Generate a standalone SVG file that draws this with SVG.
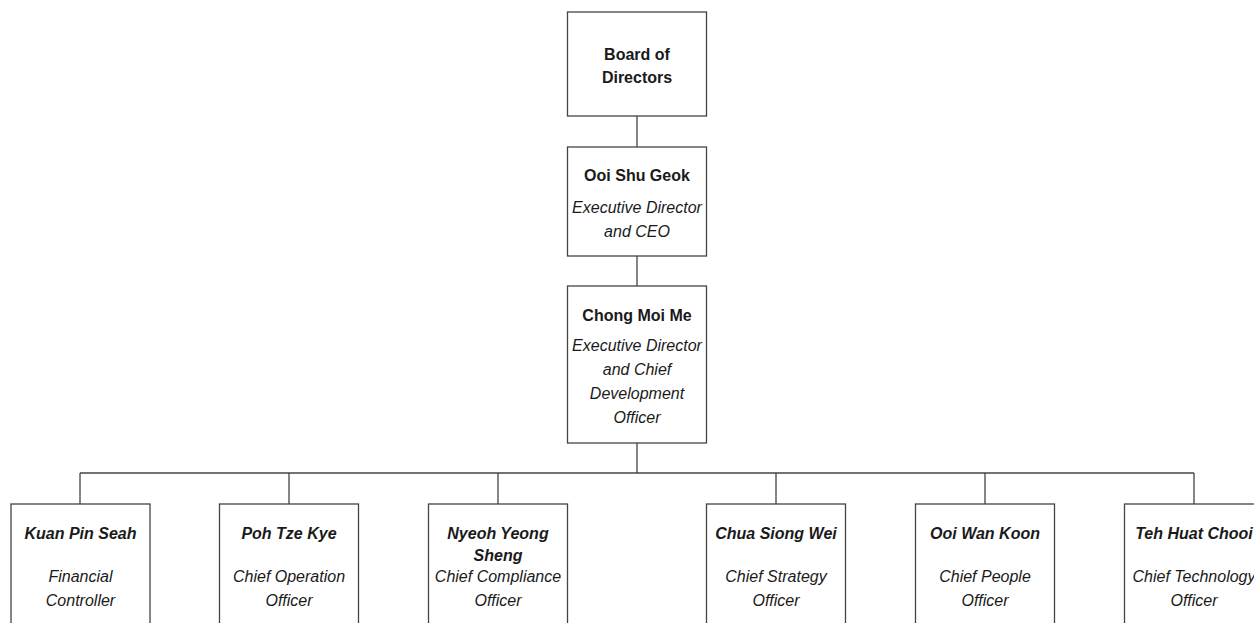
<svg xmlns="http://www.w3.org/2000/svg" width="1254" height="623" viewBox="0 0 1254 623">
<style>
.box{fill:#fff;stroke:#444;stroke-width:1.3}
.ln{fill:none;stroke:#444;stroke-width:1.3}
text{font-family:"Liberation Sans",Arial,sans-serif;font-size:16px;fill:#1a1a1a;text-anchor:middle}
.b{font-weight:bold}
.i{font-style:italic}
.bi{font-weight:bold;font-style:italic}
</style>
<rect width="1254" height="623" fill="#fff"/>
<g id="connectors">
<path class="ln" d="M637 116V147M637 256V286M637 443V473M80 473H1194M80 473V504M289 473V504M498 473V504M776 473V504M985 473V504M1194 473V504"/>
</g>
<g id="board">
<rect class="box" x="567.5" y="12" width="139" height="104"/>
<text class="b" x="637" y="60">Board of</text>
<text class="b" x="637" y="83">Directors</text>
</g>
<g id="ceo">
<rect class="box" x="567.5" y="147" width="139" height="109"/>
<text class="b" x="637" y="181">Ooi Shu Geok</text>
<text class="i" x="637" y="213">Executive Director</text>
<text class="i" x="637" y="237">and CEO</text>
</g>
<g id="cdo">
<rect class="box" x="567.5" y="286" width="139" height="157"/>
<text class="b" x="637" y="321">Chong Moi Me</text>
<text class="i" x="637" y="351">Executive Director</text>
<text class="i" x="637" y="375">and Chief</text>
<text class="i" x="637" y="399">Development</text>
<text class="i" x="637" y="423">Officer</text>
</g>
<g id="fc">
<rect class="box" x="11" y="504" width="139" height="140"/>
<text class="bi" x="80.5" y="539">Kuan Pin Seah</text>
<text class="i" x="80.5" y="582">Financial</text>
<text class="i" x="80.5" y="606">Controller</text>
</g>
<g id="coo">
<rect class="box" x="219.5" y="504" width="139" height="140"/>
<text class="bi" x="289" y="539">Poh Tze Kye</text>
<text class="i" x="289" y="582">Chief Operation</text>
<text class="i" x="289" y="606">Officer</text>
</g>
<g id="cco">
<rect class="box" x="428.5" y="504" width="139" height="140"/>
<text class="bi" x="498" y="539">Nyeoh Yeong</text>
<text class="bi" x="498" y="561">Sheng</text>
<text class="i" x="498" y="582">Chief Compliance</text>
<text class="i" x="498" y="606">Officer</text>
</g>
<g id="cso">
<rect class="box" x="706.5" y="504" width="139" height="140"/>
<text class="bi" x="776" y="539">Chua Siong Wei</text>
<text class="i" x="776" y="582">Chief Strategy</text>
<text class="i" x="776" y="606">Officer</text>
</g>
<g id="cpo">
<rect class="box" x="915.5" y="504" width="139" height="140"/>
<text class="bi" x="985" y="539">Ooi Wan Koon</text>
<text class="i" x="985" y="582">Chief People</text>
<text class="i" x="985" y="606">Officer</text>
</g>
<g id="cto">
<rect class="box" x="1124.5" y="504" width="139" height="140"/>
<text class="bi" x="1194" y="539">Teh Huat Chooi</text>
<text class="i" x="1194" y="582">Chief Technology</text>
<text class="i" x="1194" y="606">Officer</text>
</g>
</svg>
